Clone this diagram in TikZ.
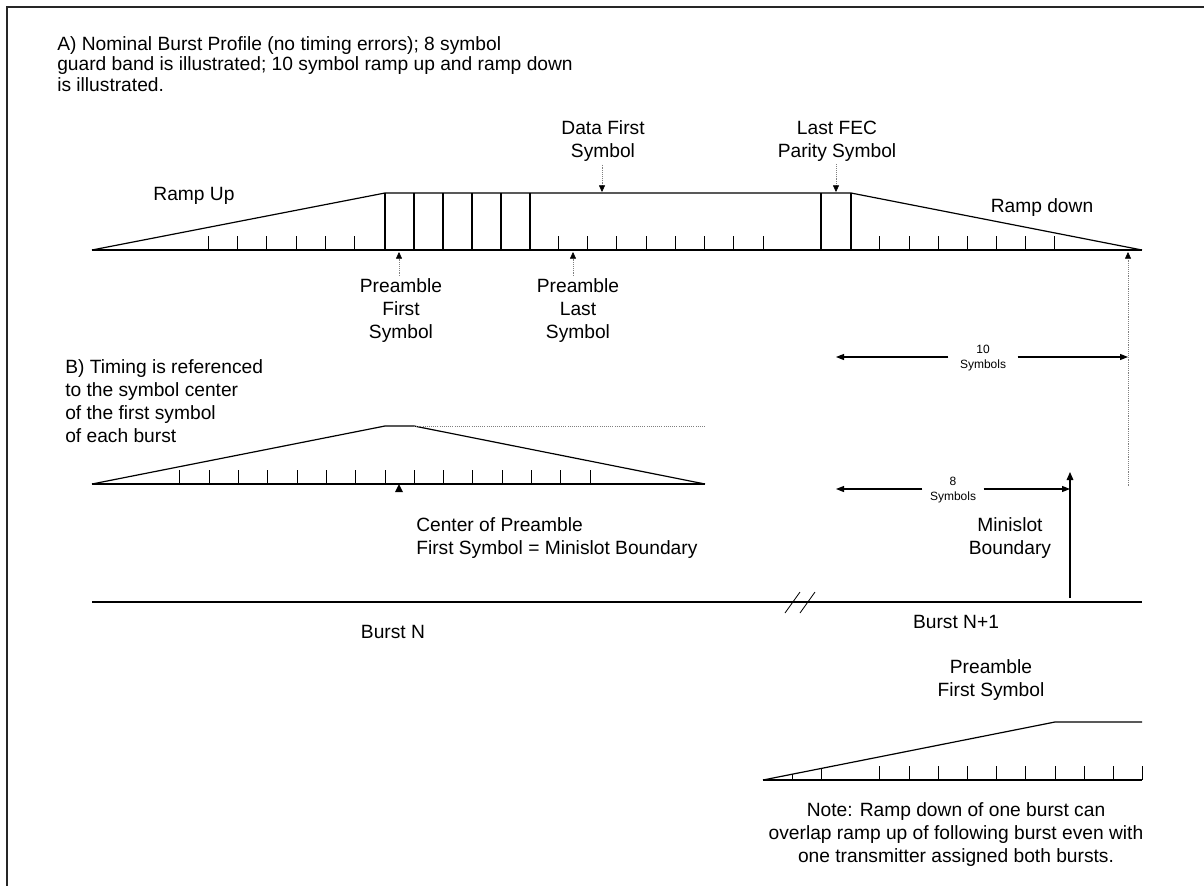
\documentclass[tikz,border=0pt]{standalone}
\usepackage{fontspec}
\setmainfont{Liberation Sans}
\usetikzlibrary{arrows.meta}
\begin{document}
\begin{tikzpicture}[x=0.75pt,y=-0.75pt,
  lbl/.style={font=\fontsize{14.4}{17.25}\selectfont, align=center, inner sep=0pt},
  lbll/.style={font=\fontsize{14.4}{17.25}\selectfont, align=left, inner sep=0pt},
  small/.style={font=\fontsize{9}{11.25}\selectfont, align=center, inner ysep=1pt},
  prof/.style={line width=0.9pt},
  tck/.style={line width=0.7pt},
  ptr/.style={densely dotted, line width=0.4pt, draw=gray, -{Triangle[width=4.5pt,length=5pt,fill=black,color=black]}},
  solidptr/.style={line width=0.8pt, -{Triangle[width=5pt,length=6pt]}},
  dimarrow/.style={line width=0.8pt, -{Triangle[width=4.5pt,length=6pt]}}
]
\useasboundingbox (0,0) rectangle (1204,886);
\draw[line width=1.4pt, draw=black!85] (7,886) -- (7,7) -- (1204,7);

% ---------------- A text
\node[lbll, font=\fontsize{14.4}{15.4}\selectfont, anchor=north west] (atext) at (57,36) {A) Nominal Burst Profile (no timing errors); 8 symbol\\guard band is illustrated; 10 symbol ramp up and ramp down\\is illustrated.};

% ---------------- A profile
\coordinate (a0) at (92,250);
\coordinate (a1) at (385,193);
\coordinate (a2) at (851,193);
\coordinate (a3) at (1142,250);
\draw[prof] (a0) -- (a3);
\draw[prof] (a0) -- (a1) -- (a2) -- (a3);
\foreach \x in {385,414,443,472,501,530,821,851} \draw[prof] (\x,193) -- (\x,250);
\foreach \x in {208,237,266,296,325,354,558,587,616,646,675,704,733,763,879,909,938,967,996,1025,1054}
  \draw[tck] (\x,236) -- (\x,250);

\node[lbl] (rup) at (194,196) {Ramp Up};
\node[lbl] (rdown) at (1042,208) {Ramp down};

\node[lbl] (dfs) at (603,141) {Data First\\Symbol};
\coordinate (dfst) at (602,192);
\draw[ptr] (dfs.south -| dfst) ++(0,3) -- (dfst);

\node[lbl] (lfec) at (837,141) {Last FEC\\Parity Symbol};
\coordinate (lfect) at (836,192);
\draw[ptr] (lfec.south -| lfect) ++(0,3) -- (lfect);

\node[lbl] (pfs) at (401,311) {Preamble\\First\\Symbol};
\coordinate (pfst) at (399,252);
\draw[ptr] (pfs.north -| pfst) ++(0,-3) -- (pfst);

\node[lbl] (pls) at (578,311) {Preamble\\Last\\Symbol};
\coordinate (plst) at (573,252);
\draw[ptr] (pls.north -| plst) ++(0,-3) -- (plst);

% ---------------- dimension arrows
\node[small, inner xsep=8.6pt] (ten) at (983,358) {10\\Symbols};
\coordinate (tenl) at (836,357);
\coordinate (tenr) at (1128,357);
\draw[dimarrow] (ten.west |- tenl) -- (tenl);
\draw[dimarrow] (ten.east |- tenr) -- (tenr);

\node[small, inner xsep=5.6pt] (eight) at (953,490) {8\\Symbols};
\coordinate (eightl) at (836,489);
\coordinate (eightr) at (1070,489);
\draw[dimarrow] (eight.west |- eightl) -- (eightl);
\draw[dimarrow] (eight.east |- eightr) -- (eightr);

\coordinate (rdend) at (1128,252);
\coordinate (rdlow) at (1128,486);
\draw[ptr] (rdlow) -- (rdend);

% ---------------- B text and profile
\node[lbll, anchor=north west] (btext) at (65,359) {B) Timing is referenced\\to the symbol center\\of the first symbol\\of each burst};

\coordinate (b0) at (92,484);
\coordinate (b1) at (385,426);
\coordinate (b2) at (414,426);
\coordinate (b3) at (705,484);
\draw[prof] (b0) -- (b3);
\draw[prof] (b0) -- (b1) -- (b2) -- (b3);
\draw[densely dotted, line width=0.6pt, draw=gray] (b2) -- (b3 |- b2);
\foreach \k in {-7,...,7} \draw[tck] ({385+29.3*\k},470) -- ({385+29.3*\k},484);
\coordinate (bct) at (399,484);
\fill (bct) -- ++(-4,8) -- ++(8,0) -- cycle;

\node[lbll, anchor=west] (cpre) at (416,538) {Center of Preamble\\First Symbol = Minislot Boundary};

% ---------------- timeline
\coordinate (t0) at (92,602);
\coordinate (t1) at (1142,602);
\draw[line width=0.8pt] (t0) -- (t1);
\draw[line width=0.6pt] (785,613) -- (800,592);
\draw[line width=0.6pt] (800,613) -- (815,592);

\coordinate (msb) at (1070,598);
\coordinate (msbt) at (1070,472);
\draw[solidptr] (msb) -- (msbt);
\node[lbl] (msl) at (1010,538) {Minislot\\Boundary};

\node[lbl] (bn) at (393,632) {Burst N};
\node[lbl] (bn1) at (956,622) {Burst N+1};

% ---------------- bottom profile
\node[lbl] (pfs2) at (991,680) {Preamble\\First Symbol};
\coordinate (c0) at (763,780);
\coordinate (c1) at (1055,722);
\coordinate (c2) at (1142,722);
\coordinate (c3) at (1142,780);
\draw[prof] (c0) -- (c3);
\draw[prof] (c0) -- (c1) -- (c2);
\draw[tck] (792,780) -- (792,774.2);
\draw[tck] (821,780) -- (821,768.5);
\foreach \k in {4,...,13} \draw[tck] ({763+29.2*\k},766) -- ({763+29.2*\k},780);

\node[lbl] (note) at (956,835) {Note: Ramp down of one burst can\\overlap ramp up of following burst even with\\one transmitter assigned both bursts.};
\end{tikzpicture}
\end{document}
